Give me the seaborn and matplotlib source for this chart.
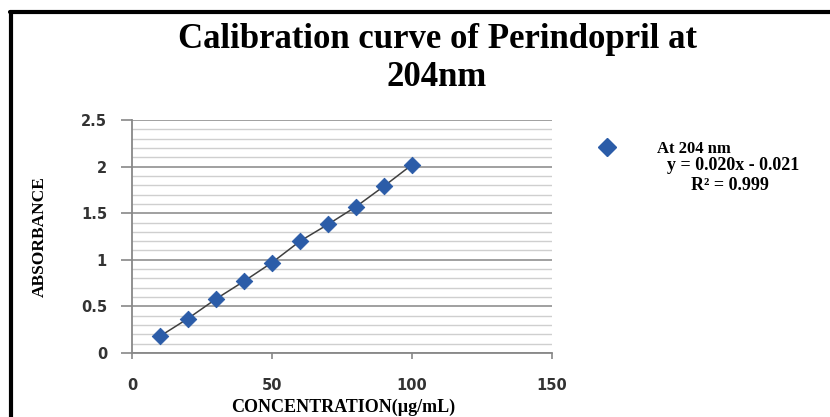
import numpy as np
import pandas as pd
import matplotlib.pyplot as plt
import matplotlib.ticker as mticker
from matplotlib.lines import Line2D
import seaborn as sns

#%% datos
concentracion = [10, 20, 30, 40, 50, 60, 70, 80, 90, 100]
absorbancia = [0.18, 0.37, 0.58, 0.77, 0.97, 1.20, 1.38, 1.57, 1.79, 2.02]
serie = 'At 204 nm'
ecuacion = 'y = 0.020x - 0.021'
r2 = 'R² = 0.999'

df = pd.DataFrame({'conc': concentracion, 'abs': absorbancia})

#%% grafico
sns.set_style('white')
plt.rcParams['font.family'] = ['Liberation Serif', 'DejaVu Serif']
plt.rcParams['text.color'] = 'black'
plt.rcParams['axes.labelcolor'] = 'black'

fig = plt.figure(figsize=(8.3, 4.17), dpi=100)
ax = fig.add_axes([132/830, 1 - 353/417, (552-132)/830, (353-120)/417])

azul = '#2B5CA8'
sns.lineplot(data=df, x='conc', y='abs', ax=ax, color='#404040', linewidth=1.1, zorder=3)
sns.scatterplot(data=df, x='conc', y='abs', ax=ax, marker='D', s=70, color=azul,
                edgecolor=azul, zorder=4)

ax.set_xlim(0, 150)
ax.set_ylim(0, 2.5)
ax.set_xticks([0, 50, 100, 150])
ax.set_yticks([0, 0.5, 1, 1.5, 2, 2.5])
ax.yaxis.set_minor_locator(mticker.MultipleLocator(0.1))
ax.yaxis.set_major_formatter(mticker.FuncFormatter(lambda v, p: '{:g}'.format(v)))

ax.grid(axis='y', which='major', color='#999999', linewidth=1.3)
ax.grid(axis='y', which='minor', color='#cfcfcf', linewidth=1.0)
ax.grid(axis='x', visible=False)
ax.set_axisbelow(True)

for s in ['top', 'right']:
    ax.spines[s].set_visible(False)
for s in ['left', 'bottom']:
    ax.spines[s].set_color('#888888')
    ax.spines[s].set_linewidth(1.3)

ax.tick_params(axis='y', which='major', left=True, length=8, width=1.2, color='#888888', pad=10)
ax.tick_params(axis='y', which='minor', left=False)
ax.tick_params(axis='x', which='major', bottom=True, length=4, width=1.2, color='#888888', pad=14)
for lab in ax.get_xticklabels() + ax.get_yticklabels():
    lab.set_family('DejaVu Sans')
    lab.set_fontweight('bold')
    lab.set_fontsize(10.5)
    lab.set_color('#333333')

ax.set_xlabel('CONCENTRATION(µg/mL)', fontsize=13, fontweight='bold')
ax.set_ylabel('ABSORBANCE', fontsize=12.5, fontweight='bold')
ax.xaxis.set_label_coords((343-132)/420, -(407-353)/233)
ax.yaxis.set_label_coords(-(132-40)/420, 0.5)
ax.xaxis.label.set_va('center')
ax.yaxis.label.set_va('center')

fig.text(437/830, 1 - 59/417, 'Calibration curve of Perindopril at\n204nm', ha='center', va='center',
         fontsize=25, fontweight='bold', linespacing=1.2, color='black')

# leyenda
h = Line2D([], [], marker='D', linestyle='none', color=azul, markersize=9)
ax.legend([h], [serie], loc='center left', bbox_to_anchor=(575/830, 1 - 149/417),
          bbox_transform=fig.transFigure, frameon=False, handletextpad=2.0,
          prop={'family': 'Liberation Serif', 'weight': 'bold', 'size': 12})
fig.text(733/830, 1 - 166/417, ecuacion, ha='center', va='center', fontsize=13, fontweight='bold')
fig.text(730/830, 1 - 185/417, r2, ha='center', va='center', fontsize=13, fontweight='bold')

# marco
fig.add_artist(Line2D([11/830, 11/830], [0, 1 - 12/417], color='black', linewidth=3,
                      transform=fig.transFigure))
fig.add_artist(Line2D([10/830, 1], [1 - 12/417, 1 - 12/417], color='black', linewidth=3,
                      transform=fig.transFigure))

fig.savefig('out.png', dpi=100)
